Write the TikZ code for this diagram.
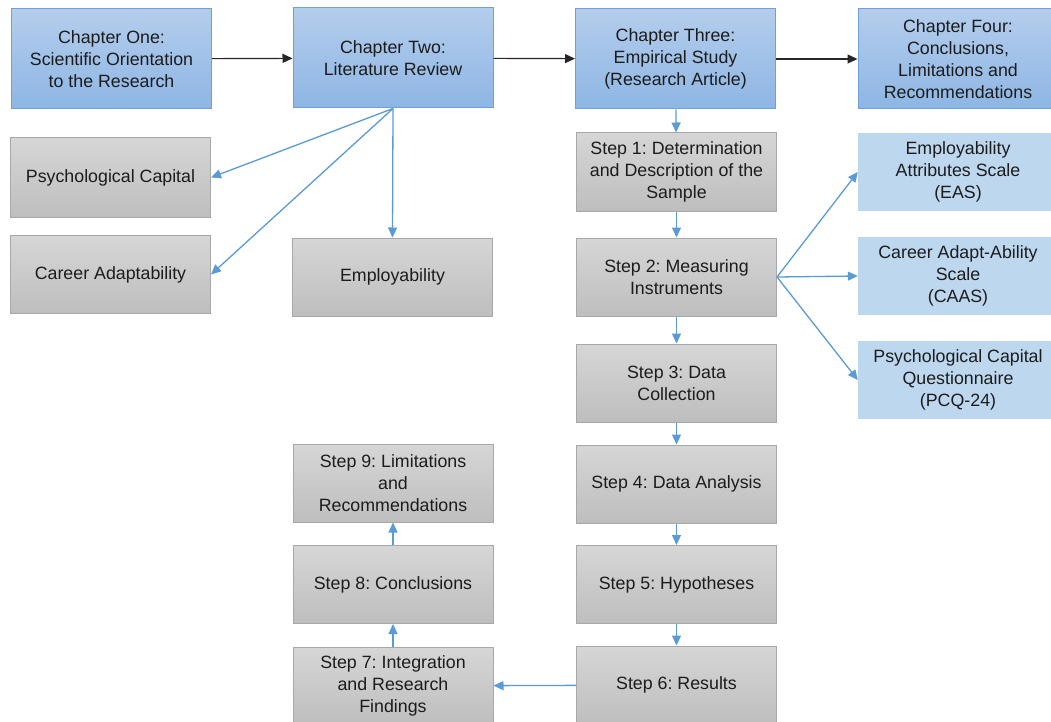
\documentclass[tikz,border=0pt]{standalone}
\usepackage{fontspec}
\setmainfont{Liberation Sans}
\usetikzlibrary{arrows.meta}
\frenchspacing
\definecolor{chtop}{RGB}{180,205,236}
\definecolor{chbot}{RGB}{141,182,228}
\definecolor{chline}{RGB}{112,160,218}
\definecolor{grtop}{RGB}{214,214,214}
\definecolor{grbot}{RGB}{190,190,190}
\definecolor{grline}{RGB}{168,168,168}
\definecolor{lbfill}{RGB}{189,215,238}
\definecolor{arrblue}{RGB}{91,155,213}
\definecolor{txt}{RGB}{28,28,28}
\begin{document}
\begin{tikzpicture}[x=1pt,y=-1pt,
  every node/.style={font=\fontsize{17.8}{22}\selectfont, text=txt, align=center, inner sep=2pt},
  chapbox/.style={draw=chline, line width=1pt, top color=chtop, bottom color=chbot, minimum width=200pt, minimum height=100pt},
  stepbox/.style={draw=grline, line width=1pt, top color=grtop, bottom color=grbot, minimum width=200pt, minimum height=78pt},
  scalebox/.style={fill=lbfill, minimum width=200pt, minimum height=78pt},
  flow/.style={draw=black!85, line width=1.2pt, -{Triangle[length=10pt,width=9pt]}},
  link/.style={draw=arrblue, line width=1.3pt, -{Triangle[length=10pt,width=9pt]}}
]
\useasboundingbox (0,0) rectangle (1051,722);
\fill[white] (0,0) rectangle (1051,722);

% chapters
\node[chapbox] (ch1) at (111.5,59) {Chapter One:\\Scientific Orientation\\to the Research};
\node[chapbox] (ch2) at (393,58) {Chapter Two:\\Literature Review};
\node[chapbox] (ch3) at (675.5,59) {Chapter Three:\\Empirical Study\\(Research Article)};
\node[chapbox] (ch4) at (958,59) {Chapter Four:\\Conclusions,\\Limitations and\\Recommendations};

% literature review topics
\node[stepbox, minimum height=79pt] (psy) at (110.5,177.5) {Psychological Capital};
\node[stepbox] (car) at (110.5,274.5) {Career Adaptability};
\node[stepbox] (emp) at (392.5,277) {Employability};

% empirical steps
\node[stepbox] (s1) at (676.5,172) {Step 1: Determination\\and Description of the\\Sample};
\node[stepbox] (s2) at (676.5,277) {Step 2: Measuring\\Instruments};
\node[stepbox] (s3) at (676.5,383) {Step 3: Data\\Collection};
\node[stepbox] (s4) at (676.5,484) {Step 4: Data Analysis};
\node[stepbox] (s5) at (676.5,584.5) {Step 5: Hypotheses};
\node[stepbox] (s6) at (676.5,685) {Step 6: Results};
\node[stepbox] (s7) at (393,686) {Step 7: Integration\\and Research\\Findings};
\node[stepbox] (s8) at (393,584.5) {Step 8: Conclusions};
\node[stepbox] (s9) at (393,483) {Step 9: Limitations\\and\\Recommendations};

% measuring instruments
\node[scalebox] (eas) at (958,172) {Employability\\Attributes Scale\\(EAS)};
\node[scalebox] (caas) at (958,276) {Career Adapt-Ability\\Scale\\(CAAS)};
\node[scalebox] (pcq) at (958,380) {Psychological Capital\\Questionnaire\\(PCQ-24)};

% chapter sequence
\draw[flow] (ch1) -- (ch2);
\draw[flow] (ch2) -- (ch3);
\draw[flow] (ch3) -- (ch4);

% literature review branches
\draw[link] (ch2.south) -- (psy.east);
\draw[link] (ch2.south) -- (car.east);
\draw[link] (ch2.south) -- (emp.north);

% step chain
\draw[link] (ch3) -- (s1);
\draw[link] (s1) -- (s2);
\draw[link] (s2) -- (s3);
\draw[link] (s3) -- (s4);
\draw[link] (s4) -- (s5);
\draw[link] (s5) -- (s6);
\draw[link] (s6) -- (s7);
\draw[link] (s7) -- (s8);
\draw[link] (s8) -- (s9);

% instruments
\draw[link] (s2.east) -- (eas.west);
\draw[link] (s2.east) -- (caas.west);
\draw[link] (s2.east) -- (pcq.west);
\end{tikzpicture}
\end{document}
